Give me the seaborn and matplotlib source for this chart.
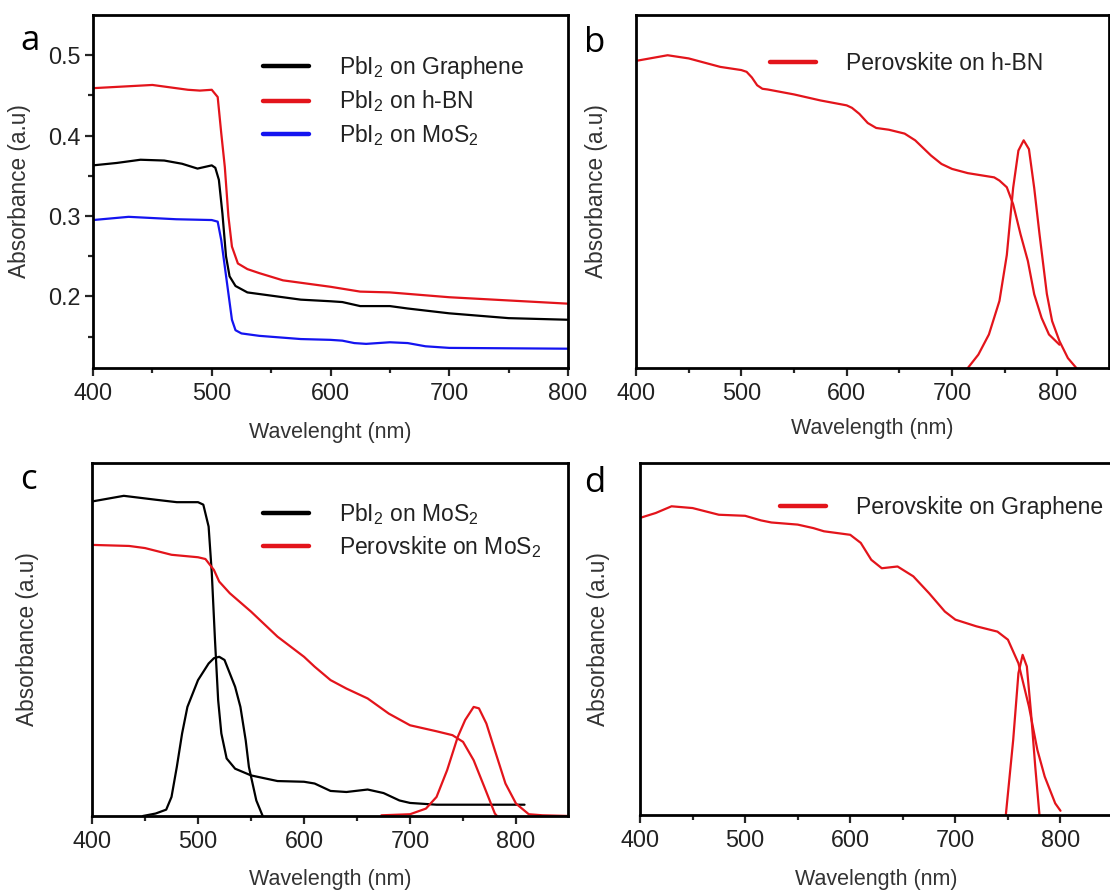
import numpy as np
import pandas as pd
import matplotlib
matplotlib.use("Agg")
import matplotlib.pyplot as plt
import seaborn as sns
from matplotlib.lines import Line2D
from matplotlib.ticker import MultipleLocator, FixedLocator

# ---------------- data ----------------
# Panel a
a_gr_x = [400, 420, 440, 460, 475, 488, 500, 503, 506, 509, 512, 515, 520, 530, 550, 575, 600, 610, 625, 650, 665, 700, 725, 750, 800]
a_gr_y = [0.363, 0.366, 0.370, 0.369, 0.365, 0.359, 0.363, 0.360, 0.345, 0.303, 0.250, 0.225, 0.213, 0.205, 0.201, 0.196, 0.194, 0.193, 0.188, 0.188, 0.185, 0.179, 0.176, 0.173, 0.171]
a_bn_x = [400, 425, 450, 480, 490, 500, 505, 508, 511, 514, 517, 522, 530, 540, 560, 600, 625, 650, 700, 750, 800]
a_bn_y = [0.459, 0.461, 0.463, 0.457, 0.456, 0.457, 0.448, 0.403, 0.361, 0.300, 0.262, 0.241, 0.234, 0.229, 0.220, 0.212, 0.206, 0.205, 0.199, 0.195, 0.191]
a_mo_x = [400, 430, 470, 500, 505, 508, 511, 514, 517, 520, 525, 540, 575, 600, 610, 620, 630, 650, 665, 680, 700, 800]
a_mo_y = [0.295, 0.299, 0.296, 0.295, 0.293, 0.270, 0.237, 0.204, 0.171, 0.158, 0.154, 0.151, 0.147, 0.146, 0.145, 0.142, 0.141, 0.143, 0.142, 0.138, 0.136, 0.135]

# Panel b (a.u.)
b_abs_x = [400, 430, 450, 480, 500, 505, 510, 515, 520, 525, 550, 575, 600, 605, 612, 620, 628, 640, 655, 665, 680, 690, 700, 715, 740, 745, 752, 758, 765, 772, 778, 785, 792, 802]
b_abs_y = [0.870, 0.886, 0.877, 0.853, 0.844, 0.839, 0.823, 0.801, 0.791, 0.789, 0.775, 0.758, 0.744, 0.737, 0.720, 0.694, 0.680, 0.675, 0.664, 0.645, 0.602, 0.578, 0.564, 0.552, 0.540, 0.531, 0.512, 0.464, 0.379, 0.303, 0.209, 0.142, 0.095, 0.066]
b_pl_x = [715, 725, 735, 745, 752, 758, 763, 768, 773, 778, 783, 790, 795, 802, 810, 818]
b_pl_y = [0.0, 0.038, 0.095, 0.190, 0.320, 0.510, 0.616, 0.645, 0.620, 0.510, 0.380, 0.210, 0.133, 0.076, 0.028, 0.0]

# Panel c (a.u.)
c_pbi_abs_x = [400, 430, 460, 480, 500, 505, 510, 513, 516, 519, 522, 527, 535, 550, 575, 600, 610, 625, 640, 660, 675, 690, 700, 725, 808]
c_pbi_abs_y = [0.891, 0.907, 0.896, 0.889, 0.889, 0.882, 0.820, 0.688, 0.499, 0.328, 0.234, 0.163, 0.134, 0.115, 0.099, 0.097, 0.092, 0.071, 0.068, 0.075, 0.065, 0.044, 0.037, 0.032, 0.032]
c_pbi_pl_x = [448, 460, 470, 475, 480, 485, 490, 495, 500, 510, 515, 520, 525, 530, 535, 540, 545, 548, 555, 561]
c_pbi_pl_y = [0.0, 0.007, 0.018, 0.054, 0.139, 0.234, 0.309, 0.347, 0.385, 0.432, 0.447, 0.451, 0.442, 0.404, 0.366, 0.309, 0.214, 0.139, 0.044, 0.0]
c_pero_abs_x = [400, 435, 450, 475, 500, 507, 515, 520, 530, 550, 575, 600, 610, 625, 640, 660, 680, 700, 725, 740, 750, 760, 770, 780, 782]
c_pero_abs_y = [0.768, 0.765, 0.759, 0.740, 0.733, 0.728, 0.697, 0.664, 0.631, 0.579, 0.508, 0.451, 0.423, 0.385, 0.361, 0.333, 0.290, 0.257, 0.240, 0.229, 0.210, 0.158, 0.083, 0.007, 0.0]
c_pero_pl_x = [673, 700, 715, 725, 735, 745, 752, 760, 765, 772, 780, 790, 800, 812, 825, 850]
c_pero_pl_y = [0.002, 0.005, 0.021, 0.054, 0.130, 0.224, 0.272, 0.309, 0.305, 0.262, 0.186, 0.092, 0.035, 0.005, 0.002, 0.0]

# Panel d (a.u.)
d_abs_x = [400, 415, 430, 450, 475, 500, 515, 525, 550, 565, 575, 600, 610, 620, 630, 645, 660, 675, 690, 700, 720, 740, 750, 760, 770, 778, 785, 795, 800]
d_abs_y = [0.844, 0.858, 0.877, 0.872, 0.853, 0.850, 0.837, 0.831, 0.825, 0.815, 0.806, 0.796, 0.773, 0.725, 0.701, 0.706, 0.678, 0.630, 0.578, 0.555, 0.536, 0.521, 0.498, 0.431, 0.308, 0.185, 0.109, 0.033, 0.012]
d_pl_x = [748, 755, 760, 764, 768, 772, 776, 780]
d_pl_y = [0.0, 0.213, 0.403, 0.455, 0.422, 0.289, 0.137, 0.0]

x_ticks = [400, 500, 600, 700, 800]
a_y_ticks = [0.2, 0.3, 0.4, 0.5]
a_y_minor = [0.15, 0.25, 0.35, 0.45]

# ---------------- style ----------------
sns.set_theme(style="ticks")
plt.rcParams["font.family"] = ["Liberation Sans", "DejaVu Sans"]
plt.rcParams["mathtext.fontset"] = "custom"
plt.rcParams["mathtext.rm"] = "Liberation Sans"
plt.rcParams["mathtext.it"] = "Liberation Sans"
plt.rcParams["mathtext.default"] = "regular"

RED = "#e3141b"
BLUE = "#1414f0"
BLACK = "#000000"
TXT = "#222222"

W, H = 1110, 893
fig = plt.figure(figsize=(W / 100, H / 100), dpi=100)

def box(l, t, r, b):
    return [l / W, 1 - b / H, (r - l) / W, (b - t) / H]

ax_a = fig.add_axes(box(93, 15, 568, 368))
ax_b = fig.add_axes(box(636, 15, 1109, 368))
ax_c = fig.add_axes(box(92, 463, 568, 816))
ax_d = fig.add_axes(box(640, 463, 1112, 815))

LW = 1.6

def draw(ax, x, y, color):
    df = pd.DataFrame({"x": x, "y": y})
    sns.lineplot(data=df, x="x", y="y", ax=ax, color=color, lw=LW,
                 estimator=None, sort=False, legend=False)

draw(ax_a, a_gr_x, a_gr_y, BLACK)
draw(ax_a, a_bn_x, a_bn_y, RED)
draw(ax_a, a_mo_x, a_mo_y, BLUE)

draw(ax_b, b_abs_x, b_abs_y, RED)
draw(ax_b, b_pl_x, b_pl_y, RED)

draw(ax_c, c_pbi_abs_x, c_pbi_abs_y, BLACK)
draw(ax_c, c_pbi_pl_x, c_pbi_pl_y, BLACK)
draw(ax_c, c_pero_abs_x, c_pero_abs_y, RED)
draw(ax_c, c_pero_pl_x, c_pero_pl_y, RED)

draw(ax_d, d_abs_x, d_abs_y, RED)
draw(ax_d, d_pl_x, d_pl_y, RED)

ax_a.set_xlim(400, 800)
ax_a.set_ylim(0.111, 0.55)
for ax in (ax_b, ax_c, ax_d):
    ax.set_xlim(400, 849)
    ax.set_ylim(0, 1)

for ax in (ax_a, ax_b, ax_c, ax_d):
    for s in ax.spines.values():
        s.set_linewidth(2.0)
        s.set_color("black")
        s.set_visible(True)
    ax.set_xticks(x_ticks)
    ax.xaxis.set_minor_locator(MultipleLocator(50))
    ax.tick_params(axis="x", which="major", direction="out", length=6, width=1.6,
                   labelsize=16.8, labelcolor=TXT, pad=4, top=False)
    ax.tick_params(axis="x", which="minor", direction="out", length=3.5, width=1.6, top=False)
    ax.set_ylabel("Absorbance (a.u)", fontsize=16.3, color="#333333")

ax_a.set_yticks(a_y_ticks)
ax_a.set_yticklabels(["0.2", "0.3", "0.4", "0.5"])
ax_a.yaxis.set_minor_locator(FixedLocator(a_y_minor))
ax_a.tick_params(axis="y", which="major", direction="out", length=6, width=1.6,
                 labelsize=16.8, labelcolor=TXT, pad=3, right=False)
ax_a.tick_params(axis="y", which="minor", direction="out", length=3.5, width=1.6, right=False)
for ax in (ax_b, ax_c, ax_d):
    ax.set_yticks([])
    ax.tick_params(axis="y", which="both", left=False, right=False)

ax_a.set_xlabel("Wavelenght (nm)", fontsize=15.5, color="#333333")
for ax in (ax_b, ax_c, ax_d):
    ax.set_xlabel("Wavelength (nm)", fontsize=15.5, color="#333333")

ax_a.xaxis.set_label_coords(0.5, -0.152)
ax_b.xaxis.set_label_coords(0.5, -0.142)
ax_c.xaxis.set_label_coords(0.5, -0.150)
ax_d.xaxis.set_label_coords(0.5, -0.152)
ax_a.yaxis.set_label_coords(-0.130, 0.5)
ax_b.yaxis.set_label_coords(-0.059, 0.5)
ax_c.yaxis.set_label_coords(-0.112, 0.5)
ax_d.yaxis.set_label_coords(-0.064, 0.5)

def legend(ax, labels, colors, x, y):
    handles = [Line2D([], [], color=c, lw=3.2) for c in colors]
    leg = ax.legend(handles, labels, loc="upper left",
                    bbox_to_anchor=(x / W, 1 - y / H), bbox_transform=fig.transFigure,
                    frameon=False, fontsize=16.5, handlelength=2.0, handletextpad=1.3,
                    borderpad=0, borderaxespad=0, labelspacing=0.33)
    for t in leg.get_texts():
        t.set_color(TXT)

legend(ax_a, ["PbI$_2$ on Graphene", "PbI$_2$ on h-BN", "PbI$_2$ on MoS$_2$"],
       [BLACK, RED, BLUE], 263, 54)
legend(ax_b, ["Perovskite on h-BN"], [RED], 770, 52)
legend(ax_c, ["PbI$_2$ on MoS$_2$", "Perovskite on MoS$_2$"], [BLACK, RED], 263, 501)
legend(ax_d, ["Perovskite on Graphene"], [RED], 780, 496)

# panel letters
for lab, x, y in [("a", 20, 50), ("b", 584, 52), ("c", 20, 489), ("d", 584, 492)]:
    fig.text(x / W, 1 - y / H, lab, fontsize=25, family=["Open Sans", "DejaVu Sans"],
             color="black", ha="left", va="baseline")

fig.savefig("out.png", dpi=100)
